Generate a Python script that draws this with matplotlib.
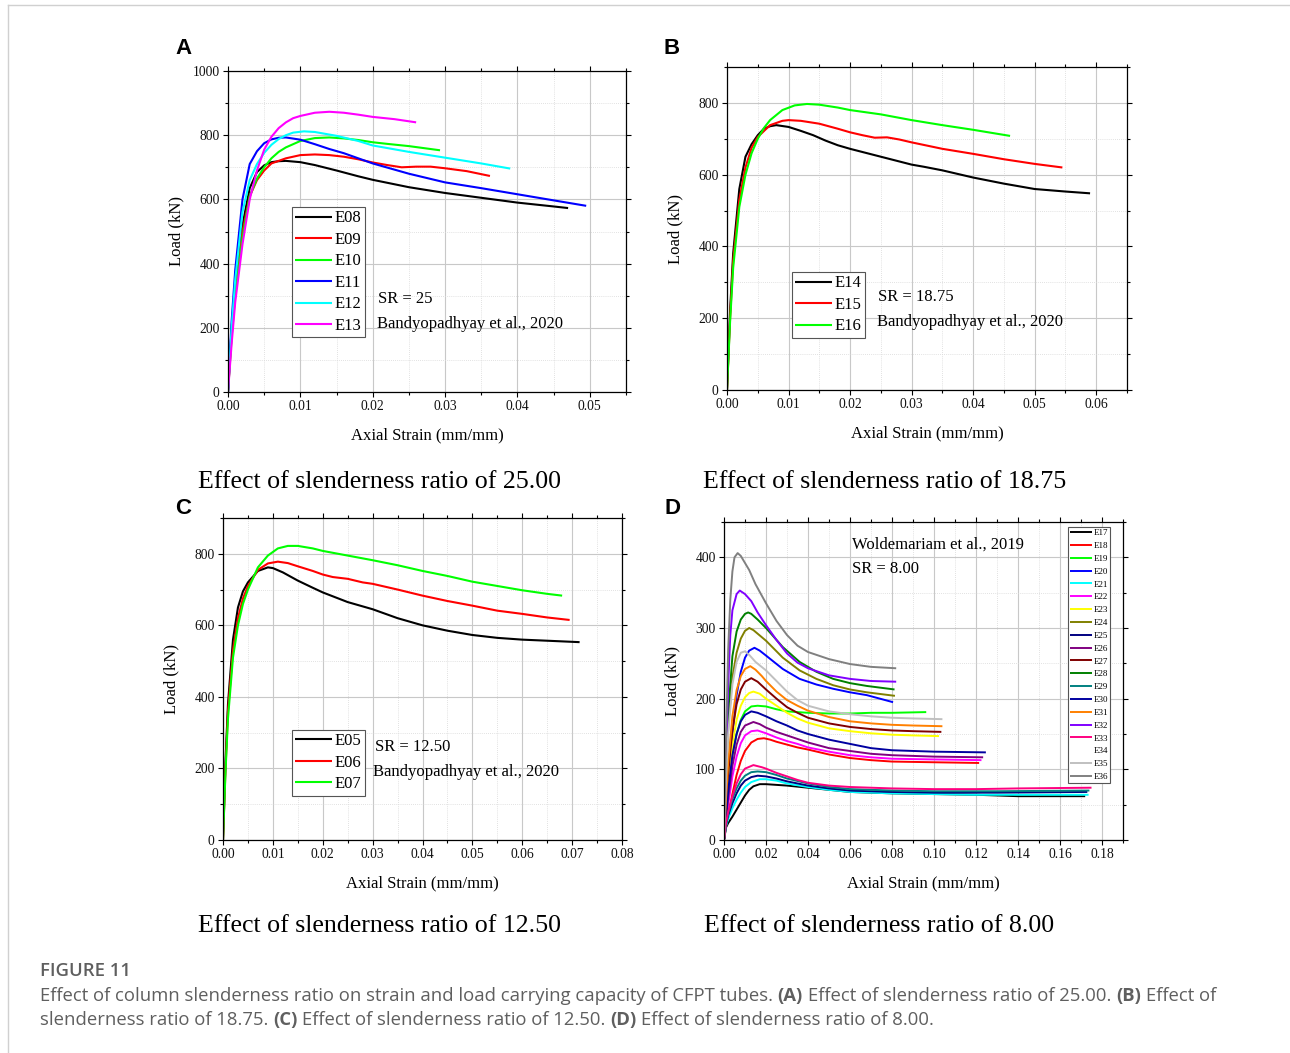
import matplotlib
matplotlib.use('Agg')
import matplotlib.pyplot as plt
from matplotlib.lines import Line2D
from matplotlib.ticker import MultipleLocator, FormatStrFormatter

SERIF = 'Liberation Serif'
plt.rcParams['font.family'] = SERIF
plt.rcParams['xtick.labelsize'] = 9.8
plt.rcParams['ytick.labelsize'] = 9.8

# ---------------- Panel A (SR = 25) ----------------
E08_x = [0, 0.0005, 0.001, 0.002, 0.003, 0.004, 0.005, 0.006, 0.007, 0.008, 0.010, 0.012, 0.015, 0.018, 0.020, 0.025, 0.030, 0.035, 0.040, 0.045, 0.047]
E08_y = [0, 200, 330, 520, 635, 685, 706, 716, 719, 720, 716, 707, 690, 672, 661, 638, 620, 605, 590, 578, 573]
E09_x = [0, 0.0005, 0.001, 0.002, 0.003, 0.004, 0.005, 0.006, 0.008, 0.010, 0.012, 0.014, 0.016, 0.018, 0.020, 0.022, 0.024, 0.026, 0.028, 0.030, 0.033, 0.0362]
E09_y = [0, 180, 310, 500, 610, 660, 690, 712, 728, 738, 740, 738, 733, 725, 715, 707, 700, 702, 702, 697, 688, 673]
E10_x = [0, 0.0005, 0.001, 0.002, 0.003, 0.004, 0.005, 0.006, 0.007, 0.008, 0.010, 0.012, 0.014, 0.016, 0.018, 0.020, 0.022, 0.025, 0.0293]
E10_y = [0, 170, 300, 480, 610, 665, 700, 728, 748, 762, 782, 791, 793, 790, 785, 778, 773, 766, 753]
E11_x = [0, 0.0005, 0.001, 0.002, 0.003, 0.004, 0.005, 0.006, 0.007, 0.008, 0.010, 0.012, 0.014, 0.016, 0.018, 0.020, 0.025, 0.030, 0.035, 0.040, 0.045, 0.0495]
E11_y = [0, 220, 380, 600, 710, 750, 775, 787, 792, 793, 786, 772, 757, 744, 728, 712, 680, 653, 635, 616, 597, 580]
E12_x = [0, 0.0005, 0.001, 0.002, 0.003, 0.004, 0.005, 0.006, 0.007, 0.008, 0.009, 0.0105, 0.012, 0.013, 0.015, 0.018, 0.020, 0.022, 0.025, 0.030, 0.035, 0.039]
E12_y = [0, 200, 350, 560, 660, 710, 745, 770, 788, 800, 808, 812, 810, 806, 798, 782, 768, 760, 748, 730, 712, 696]
E13_x = [0, 0.0005, 0.001, 0.002, 0.003, 0.004, 0.005, 0.006, 0.007, 0.008, 0.009, 0.010, 0.012, 0.014, 0.016, 0.018, 0.020, 0.023, 0.026]
E13_y = [0, 150, 280, 460, 600, 690, 755, 795, 822, 840, 853, 860, 870, 873, 870, 864, 857, 850, 840]

# ---------------- Panel B (SR = 18.75) ----------------
E14_x = [0, 0.0005, 0.001, 0.002, 0.003, 0.004, 0.005, 0.006, 0.007, 0.008, 0.010, 0.012, 0.014, 0.016, 0.018, 0.020, 0.025, 0.030, 0.032, 0.035, 0.040, 0.045, 0.050, 0.055, 0.059]
E14_y = [0, 220, 380, 560, 650, 685, 710, 728, 735, 738, 733, 722, 710, 695, 682, 672, 650, 628, 622, 612, 592, 575, 560, 553, 548]
E15_x = [0, 0.0005, 0.001, 0.002, 0.003, 0.004, 0.005, 0.007, 0.009, 0.010, 0.012, 0.015, 0.018, 0.020, 0.022, 0.024, 0.026, 0.028, 0.030, 0.035, 0.040, 0.045, 0.050, 0.0545]
E15_y = [0, 200, 360, 530, 620, 675, 705, 738, 750, 752, 750, 742, 728, 718, 710, 703, 704, 698, 690, 672, 658, 643, 630, 620]
E16_x = [0, 0.0005, 0.001, 0.002, 0.003, 0.004, 0.005, 0.006, 0.007, 0.009, 0.011, 0.013, 0.015, 0.018, 0.020, 0.025, 0.030, 0.035, 0.040, 0.046]
E16_y = [0, 190, 340, 510, 600, 660, 700, 730, 752, 780, 793, 797, 795, 787, 780, 768, 752, 738, 725, 708]

# ---------------- Panel C (SR = 12.50) ----------------
E05_x = [0, 0.0005, 0.001, 0.002, 0.003, 0.004, 0.005, 0.007, 0.009, 0.010, 0.012, 0.015, 0.018, 0.020, 0.025, 0.030, 0.035, 0.040, 0.045, 0.050, 0.055, 0.060, 0.065, 0.0715]
E05_y = [0, 220, 380, 560, 650, 695, 720, 752, 762, 760, 748, 725, 705, 692, 665, 645, 620, 600, 585, 573, 565, 560, 557, 553]
E06_x = [0, 0.0005, 0.001, 0.002, 0.003, 0.004, 0.005, 0.007, 0.009, 0.011, 0.013, 0.015, 0.018, 0.020, 0.022, 0.025, 0.028, 0.030, 0.035, 0.040, 0.045, 0.050, 0.055, 0.060, 0.065, 0.0695]
E06_y = [0, 200, 360, 530, 620, 675, 710, 755, 773, 778, 774, 765, 752, 742, 735, 730, 720, 716, 700, 683, 668, 655, 641, 632, 622, 615]
E07_x = [0, 0.0005, 0.001, 0.002, 0.003, 0.004, 0.005, 0.007, 0.009, 0.011, 0.013, 0.015, 0.018, 0.020, 0.025, 0.030, 0.035, 0.040, 0.045, 0.050, 0.055, 0.060, 0.065, 0.068]
E07_y = [0, 190, 340, 510, 600, 660, 700, 762, 795, 815, 822, 822, 815, 808, 795, 782, 768, 752, 738, 722, 710, 698, 688, 683]

# ---------------- Panel D (SR = 8.00) ----------------
E17_x = [0, 0.001, 0.002, 0.004, 0.006, 0.008, 0.010, 0.012, 0.014, 0.017, 0.020, 0.025, 0.030, 0.040, 0.050, 0.060, 0.080, 0.100, 0.120, 0.140, 0.172]
E17_y = [0, 18, 24, 33, 43, 53, 63, 71, 76, 79, 79, 78, 77, 74, 71, 68, 66, 65, 64, 62, 62]
E18_x = [0, 0.001, 0.002, 0.004, 0.006, 0.008, 0.010, 0.013, 0.016, 0.019, 0.022, 0.025, 0.030, 0.035, 0.040, 0.050, 0.060, 0.070, 0.080, 0.100, 0.1215]
E18_y = [0, 20, 35, 65, 92, 112, 126, 138, 143, 144, 142, 139, 135, 131, 128, 121, 116, 113, 111, 110, 109]
E19_x = [0, 0.001, 0.002, 0.004, 0.006, 0.008, 0.010, 0.013, 0.016, 0.020, 0.025, 0.030, 0.040, 0.050, 0.060, 0.070, 0.080, 0.0963]
E19_y = [0, 40, 70, 120, 150, 170, 182, 189, 190, 189, 185, 182, 180, 179, 179, 180, 180, 181]
E20_x = [0, 0.001, 0.002, 0.004, 0.006, 0.008, 0.010, 0.012, 0.0145, 0.017, 0.020, 0.028, 0.036, 0.044, 0.052, 0.060, 0.068, 0.0805]
E20_y = [0, 45, 80, 150, 205, 238, 258, 268, 272, 268, 261, 242, 228, 220, 214, 209, 205, 195]
E21_x = [0, 0.001, 0.002, 0.004, 0.006, 0.008, 0.010, 0.013, 0.017, 0.020, 0.025, 0.030, 0.040, 0.050, 0.060, 0.080, 0.100, 0.120, 0.150, 0.1736]
E21_y = [0, 20, 30, 45, 57, 67, 75, 82, 86, 86, 84, 80, 75, 71, 68, 66, 65, 64, 64, 64]
E22_x = [0, 0.001, 0.002, 0.004, 0.006, 0.008, 0.010, 0.013, 0.016, 0.020, 0.025, 0.030, 0.035, 0.040, 0.050, 0.060, 0.070, 0.080, 0.100, 0.1226]
E22_y = [0, 28, 50, 90, 118, 137, 148, 154, 155, 151, 145, 140, 136, 131, 125, 120, 117, 115, 114, 113]
E23_x = [0, 0.001, 0.002, 0.004, 0.006, 0.008, 0.010, 0.012, 0.014, 0.017, 0.020, 0.025, 0.030, 0.035, 0.040, 0.050, 0.060, 0.070, 0.080, 0.090, 0.1024]
E23_y = [0, 40, 80, 135, 170, 190, 202, 208, 210, 207, 200, 190, 180, 172, 166, 158, 154, 151, 149, 148, 147]
E24_x = [0, 0.001, 0.002, 0.004, 0.006, 0.008, 0.010, 0.012, 0.014, 0.016, 0.020, 0.028, 0.036, 0.044, 0.052, 0.060, 0.068, 0.0814]
E24_y = [0, 90, 160, 230, 265, 285, 296, 300, 297, 292, 282, 258, 240, 228, 219, 213, 209, 204]
E25_x = [0, 0.001, 0.002, 0.004, 0.006, 0.008, 0.010, 0.013, 0.016, 0.020, 0.025, 0.030, 0.040, 0.050, 0.060, 0.080, 0.100, 0.130, 0.173]
E25_y = [0, 22, 35, 52, 66, 77, 84, 89, 91, 90, 87, 83, 77, 73, 70, 68, 67, 67, 68]
E26_x = [0, 0.001, 0.002, 0.004, 0.006, 0.008, 0.010, 0.014, 0.017, 0.020, 0.025, 0.030, 0.035, 0.040, 0.050, 0.060, 0.070, 0.080, 0.100, 0.1234]
E26_y = [0, 30, 60, 105, 135, 153, 162, 167, 164, 159, 153, 148, 143, 138, 130, 126, 122, 120, 118, 117]
E27_x = [0, 0.001, 0.002, 0.004, 0.006, 0.008, 0.010, 0.013, 0.016, 0.020, 0.025, 0.030, 0.035, 0.040, 0.050, 0.060, 0.070, 0.080, 0.090, 0.1035]
E27_y = [0, 50, 95, 155, 192, 213, 224, 229, 224, 213, 200, 188, 180, 173, 165, 160, 157, 155, 154, 153]
E28_x = [0, 0.001, 0.002, 0.004, 0.006, 0.008, 0.010, 0.0115, 0.013, 0.016, 0.020, 0.028, 0.036, 0.044, 0.052, 0.060, 0.068, 0.0812]
E28_y = [0, 100, 180, 260, 295, 312, 320, 322, 320, 312, 300, 273, 252, 238, 228, 222, 218, 213]
E29_x = [0, 0.001, 0.002, 0.004, 0.006, 0.008, 0.010, 0.013, 0.016, 0.020, 0.025, 0.030, 0.040, 0.050, 0.060, 0.080, 0.100, 0.130, 0.174]
E29_y = [0, 23, 38, 58, 73, 84, 91, 96, 97, 96, 92, 87, 80, 75, 72, 70, 69, 69, 70]
E30_x = [0, 0.001, 0.002, 0.004, 0.006, 0.008, 0.010, 0.013, 0.016, 0.020, 0.025, 0.030, 0.035, 0.040, 0.050, 0.060, 0.070, 0.080, 0.100, 0.1247]
E30_y = [0, 35, 70, 120, 150, 168, 177, 182, 180, 175, 168, 162, 155, 150, 142, 136, 130, 127, 125, 124]
E31_x = [0, 0.001, 0.002, 0.004, 0.006, 0.008, 0.010, 0.0125, 0.015, 0.018, 0.020, 0.025, 0.030, 0.035, 0.040, 0.050, 0.060, 0.070, 0.080, 0.090, 0.104]
E31_y = [0, 60, 110, 175, 212, 232, 242, 246, 241, 232, 225, 210, 198, 190, 183, 174, 168, 165, 163, 162, 161]
E32_x = [0, 0.001, 0.002, 0.003, 0.004, 0.006, 0.0075, 0.010, 0.013, 0.016, 0.020, 0.025, 0.030, 0.035, 0.040, 0.050, 0.060, 0.070, 0.082]
E32_y = [0, 120, 220, 290, 325, 348, 353, 348, 338, 322, 304, 283, 264, 251, 243, 233, 228, 225, 224]
E33_x = [0, 0.001, 0.002, 0.004, 0.006, 0.008, 0.010, 0.014, 0.018, 0.020, 0.025, 0.030, 0.035, 0.040, 0.050, 0.060, 0.080, 0.100, 0.120, 0.140, 0.175]
E33_y = [0, 25, 40, 62, 80, 93, 101, 106, 103, 101, 95, 90, 85, 81, 77, 75, 73, 72, 72, 73, 74]
E34_x = []
E34_y = []
E35_x = [0, 0.001, 0.002, 0.004, 0.006, 0.008, 0.010, 0.012, 0.015, 0.020, 0.025, 0.030, 0.035, 0.040, 0.050, 0.060, 0.070, 0.080, 0.090, 0.104]
E35_y = [0, 90, 150, 220, 252, 265, 267, 262, 252, 240, 225, 210, 198, 190, 182, 178, 175, 173, 172, 171]
E36_x = [0, 0.001, 0.002, 0.003, 0.004, 0.005, 0.0065, 0.008, 0.010, 0.012, 0.015, 0.020, 0.025, 0.030, 0.035, 0.040, 0.050, 0.060, 0.070, 0.082]
E36_y = [0, 150, 270, 340, 380, 400, 406, 402, 392, 382, 362, 335, 310, 290, 275, 266, 256, 249, 245, 243]

a_labels = ['E08', 'E09', 'E10', 'E11', 'E12', 'E13']
a_colors = ['#000000', '#FF0000', '#00FF00', '#0000FF', '#00FFFF', '#FF00FF']
b_labels = ['E14', 'E15', 'E16']
c_labels = ['E05', 'E06', 'E07']
bc_colors = ['#000000', '#FF0000', '#00FF00']
d_labels = ['E%d' % i for i in range(17, 37)]
d_colors = ['#000000', '#FF0000', '#00FF00', '#0000FF', '#00FFFF', '#FF00FF', '#FFFF00',
            '#808000', '#000080', '#800080', '#800000', '#008000', '#008080', '#0000A0',
            '#FF8000', '#8000FF', '#FF0080', '#FFFFFF', '#C0C0C0', '#808080']

a_data = [(E08_x, E08_y), (E09_x, E09_y), (E10_x, E10_y), (E11_x, E11_y), (E12_x, E12_y), (E13_x, E13_y)]
b_data = [(E14_x, E14_y), (E15_x, E15_y), (E16_x, E16_y)]
c_data = [(E05_x, E05_y), (E06_x, E06_y), (E07_x, E07_y)]
d_data = [(E17_x, E17_y), (E18_x, E18_y), (E19_x, E19_y), (E20_x, E20_y), (E21_x, E21_y),
          (E22_x, E22_y), (E23_x, E23_y), (E24_x, E24_y), (E25_x, E25_y), (E26_x, E26_y),
          (E27_x, E27_y), (E28_x, E28_y), (E29_x, E29_y), (E30_x, E30_y), (E31_x, E31_y),
          (E32_x, E32_y), (E33_x, E33_y), (E34_x, E34_y), (E35_x, E35_y), (E36_x, E36_y)]

W, H = 1290, 1053
fig = plt.figure(figsize=(W / 100, H / 100), dpi=100)


def px_axes(l, t, r, b):
    return fig.add_axes([l / W, 1 - b / H, (r - l) / W, (b - t) / H])


def style(ax, xmax, xmaj, xmin, ymax, ymaj, ymin):
    ax.set_xlim(0, xmax)
    ax.set_ylim(0, ymax)
    ax.xaxis.set_major_locator(MultipleLocator(xmaj))
    ax.xaxis.set_minor_locator(MultipleLocator(xmin))
    ax.yaxis.set_major_locator(MultipleLocator(ymaj))
    ax.yaxis.set_minor_locator(MultipleLocator(ymin))
    ax.xaxis.set_major_formatter(FormatStrFormatter('%.2f'))
    ax.yaxis.set_major_formatter(FormatStrFormatter('%d'))
    ax.grid(which='major', color='#c8c8c8', lw=0.8)
    ax.grid(which='minor', color='#d8d8d8', lw=0.6, ls=(0, (1, 1.5)))
    ax.set_axisbelow(True)
    ax.tick_params(which='both', direction='out', top=True, right=True, width=0.8)
    ax.tick_params(which='major', length=3.5, labelsize=9.8, pad=2.5, labelcolor='#111111')
    ax.tick_params(which='minor', length=2)
    for s in ax.spines.values():
        s.set_linewidth(0.9)
    ax.set_xlabel('Axial Strain (mm/mm)', fontsize=12)
    ax.set_ylabel('Load (kN)', fontsize=12)


def draw(ax, data, labels, colors, lw):
    for (x, y), lab, c in zip(data, labels, colors):
        ax.plot(x, y, color=c, lw=lw, label=lab, solid_capstyle='butt')


def legend(ax, anchor, size, hl, spacing):
    lg = ax.legend(loc='upper left', bbox_to_anchor=anchor, fontsize=size,
                   frameon=True, fancybox=False, edgecolor='#555555', framealpha=1,
                   handlelength=hl, handletextpad=0.15, labelspacing=spacing,
                   borderpad=0.2, borderaxespad=0)
    lg.get_frame().set_linewidth(0.8)
    return lg


NOTE = 12

# Panel A
axA = px_axes(228, 71, 626, 392)
draw(axA, a_data, a_labels, a_colors, 1.5)
style(axA, 0.055, 0.01, 0.005, 1000, 200, 100)
legend(axA, (0.161, 0.576), 12, 2.2, 0.33)
axA.text(0.377, 0.29, 'SR = 25', transform=axA.transAxes, fontsize=NOTE, va='center')
axA.text(0.374, 0.212, 'Bandyopadhyay et al., 2020', transform=axA.transAxes, fontsize=NOTE, va='center')

# Panel B
axB = px_axes(727, 67, 1127, 390)
draw(axB, b_data, b_labels, bc_colors, 1.5)
style(axB, 0.065, 0.01, 0.005, 900, 200, 100)
legend(axB, (0.1625, 0.365), 12, 2.2, 0.33)
axB.text(0.3775, 0.288, 'SR = 18.75', transform=axB.transAxes, fontsize=NOTE, va='center')
axB.text(0.375, 0.2105, 'Bandyopadhyay et al., 2020', transform=axB.transAxes, fontsize=NOTE, va='center')

# Panel C
axC = px_axes(223, 518, 622, 840)
draw(axC, c_data, c_labels, bc_colors, 1.5)
style(axC, 0.08, 0.01, 0.005, 900, 200, 100)
legend(axC, (0.173, 0.342), 12, 2.2, 0.33)
axC.text(0.381, 0.289, 'SR = 12.50', transform=axC.transAxes, fontsize=NOTE, va='center')
axC.text(0.376, 0.211, 'Bandyopadhyay et al., 2020', transform=axC.transAxes, fontsize=NOTE, va='center')

# Panel D
axD = px_axes(724, 522, 1123, 840)
draw(axD, d_data, d_labels, d_colors, 1.4)
style(axD, 0.19, 0.02, 0.01, 450, 100, 50)
legend(axD, (0.862, 0.984), 6.5, 2.5, 0.5)
axD.text(0.321, 0.928, 'Woldemariam et al., 2019', transform=axD.transAxes, fontsize=NOTE, va='center')
axD.text(0.321, 0.852, 'SR = 8.00', transform=axD.transAxes, fontsize=NOTE, va='center')

for ax in [axA, axB, axC, axD]:
    ax.xaxis.set_label_coords(0.5, -35 / (ax.get_position().height * H))
    ax.yaxis.set_label_coords(-44 / (ax.get_position().width * W), 0.5)

# panel letters and subtitles
for letter, x, y in [('A', 183, 48), ('B', 672, 48), ('C', 183, 509), ('D', 672, 509)]:
    fig.text(x / W, 1 - y / H, letter, family='Liberation Sans', weight='bold', fontsize=16,
             ha='center', va='center')
for s, x, y in [('Effect of slenderness ratio of 25.00', 379, 482),
                ('Effect of slenderness ratio of 18.75', 885, 482),
                ('Effect of slenderness ratio of 12.50', 379, 926),
                ('Effect of slenderness ratio of 8.00', 879, 926)]:
    fig.text(x / W, 1 - y / H, s, fontsize=18.6, ha='center', va='center')

# outer frame lines
fig.add_artist(Line2D([8 / W, 1], [1 - 5 / H, 1 - 5 / H], transform=fig.transFigure, color='#d0d0d0', lw=1))
fig.add_artist(Line2D([8 / W, 8 / W], [1 - 5 / H, 0], transform=fig.transFigure, color='#d0d0d0', lw=1))

# caption
CAP = 'Open Sans'
CAP_SIZE = 13.3
CAP_COLOR = '#5f5f5f'
fig.text(40 / W, 1 - 971 / H, 'FIGURE 11', family=CAP, weight='semibold', fontsize=CAP_SIZE,
         color=CAP_COLOR, va='center')

renderer = fig.canvas.get_renderer()


def width_of(s, weight):
    t = fig.text(0, 0, s, family=CAP, weight=weight, fontsize=CAP_SIZE)
    w = t.get_window_extent(renderer=renderer).width
    t.remove()
    return w


space_w = width_of('a a', 'normal') - width_of('aa', 'normal')


def rich_line(y, parts):
    x = 40
    for s, bold in parts:
        wt = 'bold' if bold else 'normal'
        fig.text(x / W, 1 - y / H, s, family=CAP, weight=wt, fontsize=CAP_SIZE, color=CAP_COLOR, va='center')
        x += width_of(s, wt) + space_w


rich_line(996, [('Effect of column slenderness ratio on strain and load carrying capacity of CFPT tubes.', False),
                ('(A)', True), ('Effect of slenderness ratio of 25.00.', False), ('(B)', True), ('Effect of', False)])
rich_line(1020, [('slenderness ratio of 18.75.', False), ('(C)', True), ('Effect of slenderness ratio of 12.50.', False),
                 ('(D)', True), ('Effect of slenderness ratio of 8.00.', False)])

fig.savefig('out.png', dpi=100)
